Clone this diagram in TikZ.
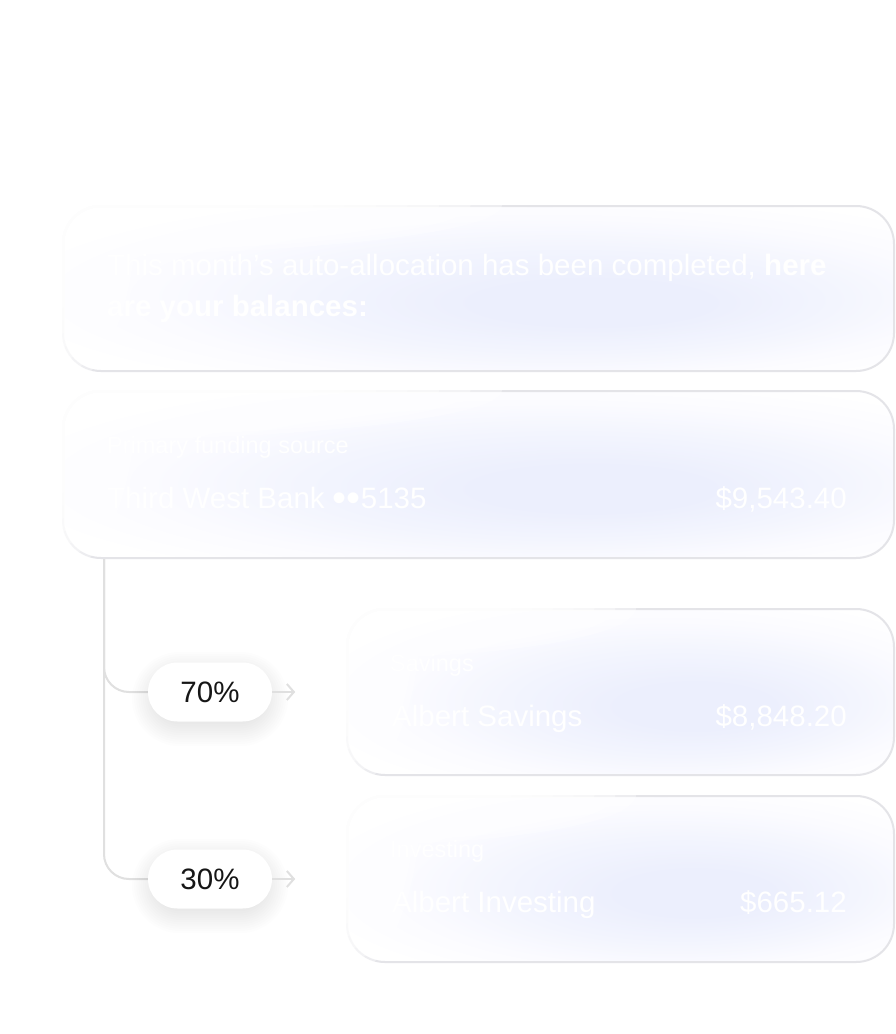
\documentclass[tikz,border=0pt]{standalone}
\usepackage{fontspec}
\setmainfont{Liberation Sans}
\usetikzlibrary{calc,arrows.meta}
\definecolor{lavc}{RGB}{236,239,253}
\definecolor{lavm}{RGB}{243,245,254}
\definecolor{lavo}{RGB}{251,251,255}
\definecolor{cardline}{RGB}{228,228,232}
\definecolor{connline}{RGB}{224,224,224}
\definecolor{ink}{RGB}{22,22,22}
\pgfdeclareradialshading{cardglow}{\pgfpoint{8bp}{-5bp}}{color(0bp)=(lavc); color(7bp)=(lavc); color(16bp)=(lavm); color(24bp)=(lavo); color(32bp)=(white); color(50bp)=(white)}
\newcommand{\bigtxt}{\fontsize{29.5}{34}\selectfont}
\newcommand{\smalltxt}{\fontsize{23.5}{28}\selectfont}
\newcommand{\cardfade}[2]{%
  \begin{scope}
    \clip[rounded corners=39pt] ($(#1.north west)+(-2,-2)$) rectangle ($(#1.south east)+(2,2)$);
    \foreach \k in {1,...,14} {
      \fill[white, opacity=0.35] (#1.north west) ellipse [x radius={75pt*\k/14}, y radius={180pt*\k/14}];
      \fill[white, opacity=0.35] (#1.north west) ellipse [x radius={#2pt*\k/14}, y radius={50pt*\k/14}];
    }
  \end{scope}}
\newcommand{\pillshadow}[1]{%
  \foreach \k in {0,...,11} {
    \fill[black, opacity=0.008, rounded corners={(24pt+2.2pt*\k)}]
      ($(#1)+(-54-2.2*\k,-16-2.2*\k)$) rectangle ($(#1)+(54+2.2*\k,30+2.2*\k)$);
  }}
\begin{document}
\begin{tikzpicture}[x=1pt,y=-1pt,
  card/.style={rounded corners=38pt, draw=cardline, line width=2pt,
    shading=cardglow, inner sep=0pt, anchor=north west},
  wide/.style={card, minimum width=831pt},
  narrow/.style={card, minimum width=547pt},
  txt/.style={text=white, inner sep=0pt, anchor=base west, font=\bigtxt},
  lbl/.style={txt, font=\smalltxt},
  amt/.style={txt, anchor=base east},
  pill/.style={fill=white, rounded corners=29.5pt, minimum width=124pt,
    minimum height=59pt, inner sep=0pt, text=ink, font=\bigtxt},
  conn/.style={draw=connline, line width=2pt, rounded corners=25pt},
  arr/.style={draw=connline, line width=2pt, -{Straight Barb[length=7pt, width=16pt]}}
]
\path[fill=white, use as bounding box] (0,0) rectangle (896,1034);

% cards
\node[wide, minimum height=165pt] (c1) at (62,205) {};
\node[wide, minimum height=167pt] (c2) at (62,390) {};
\node[narrow, minimum height=166pt] (c3) at (346,608) {};
\node[narrow, minimum height=166pt] (c4) at (346,795) {};

% card 1 text
\node[txt] (t1a) at (107,275) {This month's auto-allocation has been completed, \textbf{here}};
\node[txt] (t1b) at (107,316) {\textbf{are your balances:}};

% card 2 text
\node[lbl] (t2a) at (107,453) {Primary funding source};
\node[txt] (t2b) at (107,508) {Third West Bank {\fontsize{40}{40}\selectfont\raisebox{-3pt}{••}}5135};
\node[amt] (t2c) at (847,508) {\$9,543.40};

% card 3 text
\node[lbl] (t3a) at (390,671) {Savings};
\node[txt] (t3b) at (392,726) {Albert Savings};
\node[amt] (t3c) at (847,726) {\$8,848.20};

% card 4 text
\node[lbl] (t4a) at (390,857) {Investing};
\node[txt] (t4b) at (392,912) {Albert Investing};
\node[amt] (t4c) at (847,912) {\$665.12};

% fades
\cardfade{c1}{440}
\cardfade{c2}{440}
\cardfade{c3}{290}
\cardfade{c4}{290}

% connectors and pills
\coordinate (trunk) at ($(c2.south west)+(42,0)$);
\coordinate (p70c) at (210,692);
\coordinate (p30c) at (210,879);
\draw[conn] (trunk) |- (p70c);
\draw[conn] (trunk) |- (p30c);
\pillshadow{p70c}
\pillshadow{p30c}
\node[pill] (p70) at (p70c) {70\%};
\node[pill] (p30) at (p30c) {30\%};
\coordinate (a70) at ($(p70.east)+(23,0)$);
\coordinate (a30) at ($(p30.east)+(23,0)$);
\draw[arr] (p70.east) -- (a70);
\draw[arr] (p30.east) -- (a30);
\end{tikzpicture}
\end{document}
